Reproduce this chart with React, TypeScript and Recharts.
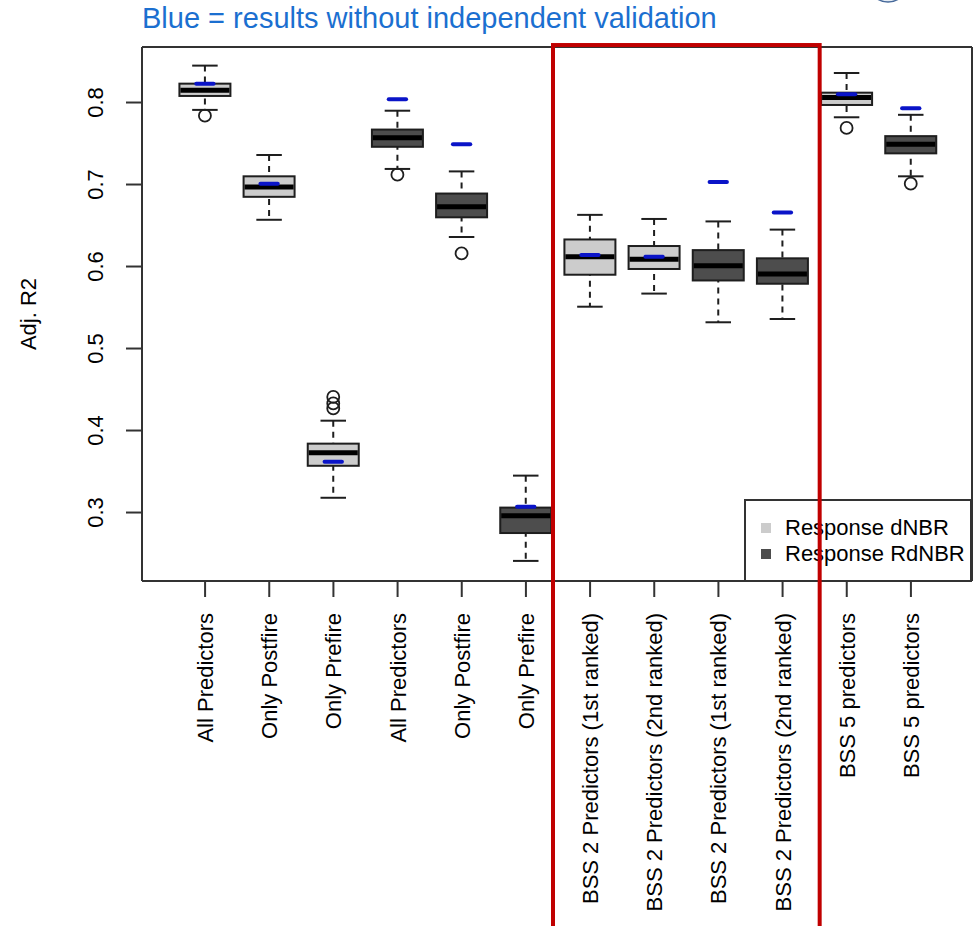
import { ComposedChart, Bar, XAxis, YAxis, ReferenceArea, Customized, Label, CartesianGrid } from "recharts";

// Adj. R2 distributions per model, two response variables
const categories = [
  "All Predictors",
  "Only Postfire",
  "Only Prefire",
  "All Predictors",
  "Only Postfire",
  "Only Prefire",
  "BSS 2 Predictors (1st ranked)",
  "BSS 2 Predictors (2nd ranked)",
  "BSS 2 Predictors (1st ranked)",
  "BSS 2 Predictors (2nd ranked)",
  "BSS 5 predictors",
  "BSS 5 predictors",
];
const response = ["dNBR", "dNBR", "dNBR", "RdNBR", "RdNBR", "RdNBR", "dNBR", "dNBR", "RdNBR", "RdNBR", "dNBR", "RdNBR"];

const whiskerLow = [0.791, 0.657, 0.318, 0.719, 0.636, 0.241, 0.551, 0.567, 0.532, 0.536, 0.782, 0.71];
const quartile1 = [0.808, 0.685, 0.357, 0.746, 0.66, 0.275, 0.59, 0.597, 0.583, 0.579, 0.797, 0.738];
const medians = [0.815, 0.697, 0.373, 0.757, 0.673, 0.296, 0.612, 0.609, 0.601, 0.591, 0.806, 0.749];
const quartile3 = [0.823, 0.71, 0.384, 0.767, 0.689, 0.306, 0.633, 0.625, 0.62, 0.61, 0.812, 0.759];
const whiskerHigh = [0.845, 0.736, 0.412, 0.79, 0.716, 0.345, 0.663, 0.658, 0.655, 0.645, 0.836, 0.785];
const outliers: number[][] = [[0.784], [], [0.441, 0.433, 0.427], [0.712], [0.616], [], [], [], [], [], [0.769], [0.701]];
// fit without independent validation (blue dashes)
const noValidation = [0.823, 0.701, 0.362, 0.804, 0.749, 0.307, 0.614, 0.612, 0.703, 0.666, 0.81, 0.793];

const yTicks = [0.3, 0.4, 0.5, 0.6, 0.7, 0.8];
const legendItems = ["Response dNBR", "Response RdNBR"];

const rows = categories.map((label, i) => ({
  id: `b${i + 1}`,
  label,
  response: response[i],
  lo: whiskerLow[i],
  q1: quartile1[i],
  med: medians[i],
  q3: quartile3[i],
  hi: whiskerHigh[i],
  out: outliers[i],
  blue: noValidation[i],
}));
const labelById: Record<string, string> = Object.fromEntries(rows.map((r) => [r.id, r.label]));

const FONT = "'Liberation Sans', Arial, Helvetica, sans-serif";
const LIGHT = "#cccccc";
const DARK = "#4d4d4d";
const BLUE = "#0a14c8";
const RED = "#c00000";
const INK = "#1e1e1e";
const FRAME = "#333";

const Y_MIN = 0.2165;
const Y_MAX = 0.8677;
const X_PAD = { left: 31, right: 29 };

type Row = (typeof rows)[number];
const whiskerRange = (d: Row) => [d.lo, d.hi];
const boxRange = (d: Row) => [d.q1, d.q3];
const medianKey = (d: Row) => d.med;
const blueKey = (d: Row) => d.blue;
const outKeys = [0, 1, 2].map((k) => (d: Row) => d.out[k]);

const fillFor = (r: string) => (r === "dNBR" ? LIGHT : DARK);

function Whisker(p: any) {
  const { x, y, width, height } = p;
  const cx = x + width / 2;
  const top = Math.min(y, y + height);
  const bottom = Math.max(y, y + height);
  const half = width / 4;
  return (
    <g>
      <line x1={cx} x2={cx} y1={top} y2={bottom} stroke={INK} strokeWidth={2} strokeDasharray="6 5" />
      <line x1={cx - half} x2={cx + half} y1={top} y2={top} stroke={INK} strokeWidth={2} />
      <line x1={cx - half} x2={cx + half} y1={bottom} y2={bottom} stroke={INK} strokeWidth={2} />
    </g>
  );
}

function BoxRect(p: any) {
  const { x, y, width, height, payload } = p;
  return (
    <rect
      x={x}
      y={Math.min(y, y + height)}
      width={width}
      height={Math.abs(height)}
      fill={fillFor(payload.response)}
      stroke={INK}
      strokeWidth={2}
    />
  );
}

function MedianLine(p: any) {
  const { x, y, width } = p;
  return <line x1={x + 1} x2={x + width - 1} y1={y} y2={y} stroke="#000" strokeWidth={5} />;
}

function BlueDash(p: any) {
  const { x, y, width } = p;
  const cx = x + width / 2;
  const half = width * 0.17;
  return <line x1={cx - half} x2={cx + half} y1={y} y2={y} stroke={BLUE} strokeWidth={4} strokeLinecap="round" />;
}

const outlierShape = (k: number) => (p: any) => {
  const { x, y, width, payload } = p;
  if (payload.out[k] == null) return <g />;
  return <circle cx={x + width / 2} cy={y} r={6} fill="none" stroke={INK} strokeWidth={1.8} />;
};
const outlierShapes = [0, 1, 2].map(outlierShape);

function XTick({ x, y, payload }: any) {
  return (
    <text
      transform={`translate(${x},${y + 14}) rotate(-90)`}
      textAnchor="end"
      dy="0.36em"
      fontSize={22}
      fontFamily={FONT}
      fill="#000"
    >
      {labelById[payload.value]}
    </text>
  );
}

function YTick({ x, y, payload }: any) {
  return (
    <text transform={`translate(${x - 21},${y}) rotate(-90)`} textAnchor="middle" fontSize={22} fontFamily={FONT} fill="#000">
      {payload.value.toFixed(1)}
    </text>
  );
}

function RedFrame(p: any) {
  const { x, y, width, height } = p;
  return <rect x={x - 5} y={y} width={width + 10} height={height} fill="none" stroke={RED} strokeWidth={4} />;
}

// plot border: grid lines only at the edges of the plotting region
const frameRows = ({ offset }: any) => [offset.top, offset.top + offset.height];
const frameCols = ({ offset }: any) => [offset.left, offset.left + offset.width];

// title, corner logo and the legend box
function Overlay() {
  return (
    <g fontFamily={FONT}>
      <text x={142} y={28} fontSize={29} fill="#1b6fd0">
        Blue = results without independent validation
      </text>
      <ellipse cx={888} cy={-16} rx={19} ry={18} fill="#e4ecf5" stroke="#46699a" strokeWidth={1.5} />
      <rect x={745} y={500} width={226} height={81} fill="#fff" stroke={FRAME} strokeWidth={2} />
      {legendItems.map((name, i) => (
        <g key={name}>
          <rect x={761} y={523 + i * 26} width={10} height={10} fill={i === 0 ? LIGHT : DARK} />
          <text x={785} y={535 + i * 26} fontSize={22} fill="#000">
            {name}
          </text>
        </g>
      ))}
    </g>
  );
}

const layerAxes = ["whisker", "box", "median", "blue", "out0", "out1", "out2"];

export default function App() {
  return (
    <div style={{ position: "fixed", top: 0, left: 0, width: 975, height: 926, background: "#fff", overflow: "hidden" }}>
      <ComposedChart
        width={975}
        height={926}
        data={rows}
        margin={{ top: 47, right: 3, bottom: 145, left: 82 }}
        barCategoryGap="10%"
      >
        <CartesianGrid
          xAxisId="main"
          stroke={FRAME}
          strokeWidth={2}
          strokeDasharray="0"
          horizontalCoordinatesGenerator={frameRows}
          verticalCoordinatesGenerator={frameCols}
        />
        <XAxis
          xAxisId="main"
          dataKey="id"
          interval={0}
          padding={X_PAD}
          tickSize={16}
          tick={<XTick />}
          height={200}
          stroke={FRAME}
          strokeWidth={2}
        />
        {layerAxes.map((id) => (
          <XAxis key={id} xAxisId={id} dataKey="id" hide height={0} padding={X_PAD} />
        ))}
        <YAxis
          type="number"
          domain={[Y_MIN, Y_MAX]}
          allowDataOverflow
          ticks={yTicks}
          width={60}
          tickSize={16}
          tick={<YTick />}
          stroke={FRAME}
          strokeWidth={2}
        >
          <Label
            content={({ viewBox }: any) => (
              <text
                transform={`translate(${viewBox.x - 46},${viewBox.y + viewBox.height / 2}) rotate(-90)`}
                textAnchor="middle"
                fontSize={22}
                fontFamily={FONT}
                fill="#000"
              >
                Adj. R2
              </text>
            )}
          />
        </YAxis>

        <Bar xAxisId="whisker" dataKey={whiskerRange} shape={<Whisker />} isAnimationActive={false} />
        <Bar xAxisId="box" dataKey={boxRange} shape={<BoxRect />} isAnimationActive={false} />
        <Bar xAxisId="median" dataKey={medianKey} shape={<MedianLine />} isAnimationActive={false} />
        <Bar xAxisId="blue" dataKey={blueKey} shape={<BlueDash />} isAnimationActive={false} />
        {outKeys.map((key, k) => (
          <Bar key={k} xAxisId={`out${k}`} dataKey={key} shape={outlierShapes[k]} isAnimationActive={false} />
        ))}

        <Customized component={Overlay} />
        <ReferenceArea
          xAxisId="main"
          x1="b7"
          x2="b10"
          y1={-0.3}
          y2={0.8701}
          ifOverflow="visible"
          shape={RedFrame}
          {...({ zIndex: 2500 } as any)}
        />
      </ComposedChart>
    </div>
  );
}
